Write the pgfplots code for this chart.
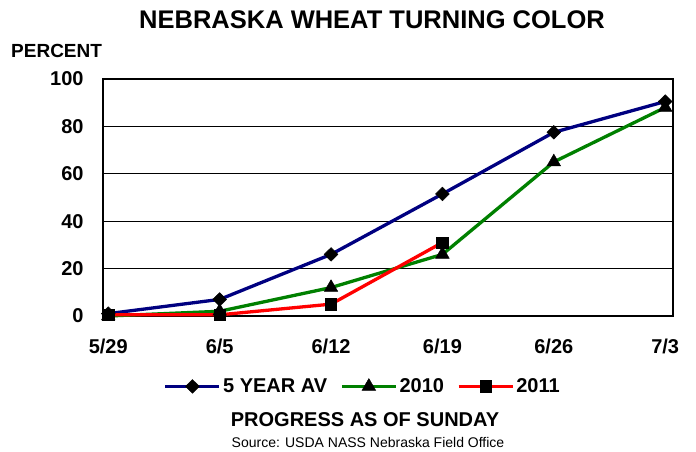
\documentclass[border=0pt]{standalone}
\usepackage{pgfplots}
\pgfplotsset{compat=1.18}
\usepackage{fontspec}
\setmainfont{Liberation Sans}
\definecolor{navyc}{RGB}{0,0,128}
\definecolor{greenc}{RGB}{0,128,0}
\definecolor{redc}{RGB}{255,0,0}
\begin{document}
\begin{tikzpicture}[x=1pt,y=1pt]
\useasboundingbox (0,0) rectangle (696,451);
\begin{axis}[
  at={(102.7pt,135pt)}, anchor=south west,
  scale only axis, width=570.3pt, height=237pt,
  xmin=-0.05, xmax=5.07, ymin=0, ymax=100,
  xtick={0,1,2,3,4,5},
  xticklabels={5/29,6/5,6/12,6/19,6/26,7/3},
  ytick={0,20,40,60,80,100},
  ymajorgrids, grid style={black, line width=1.2pt},
  major tick length=0pt,
  axis line style={black, line width=1.6pt},
  /pgf/number format/assume math mode=true,
  tick label style={font=\bfseries\fontsize{20}{24}\selectfont, inner sep=0pt},
  xticklabel style={yshift=-23pt},
  yticklabel style={xshift=-19pt},
  clip=false,
  legend columns=3,
  legend style={at={(0.456,-0.297)}, anchor=center, draw=none, fill=none,
    font=\bfseries\fontsize{20}{24}\selectfont,
    /tikz/every even column/.append style={column sep=11pt},
    inner sep=0pt},
  legend image code/.code={\draw[mark repeat=2,mark phase=2] plot coordinates {(0pt,0pt) (27pt,0pt) (54pt,0pt)};},
  every axis plot/.append style={line width=3.3pt},
]
\addplot[color=navyc, mark=diamond*, mark options={solid, fill=black, draw=black, line width=0.5pt, mark size=6.8pt, xscale=1.35}] coordinates {(0,1) (1,7) (2,26) (3,51.5) (4,77.5) (5,90.5)};
\addlegendentry{5 YEAR AV}
\addplot[color=greenc, mark=triangle*, mark options={solid, fill=black, draw=black, line width=0.5pt, mark size=7.8pt}] coordinates {(0,0) (1,2) (2,12) (3,26) (4,65) (5,88)};
\addlegendentry{2010}
\addplot[color=redc, mark=square*, mark options={solid, fill=black, draw=black, line width=0.5pt, mark size=5.7pt}] coordinates {(0,0.5) (1,0.5) (2,5) (3,31)};
\addlegendentry{2011}
\end{axis}
\node[font=\bfseries\fontsize{25.5}{30}\selectfont, anchor=base] at (372,422) {NEBRASKA WHEAT TURNING COLOR};
\node[font=\bfseries\fontsize{19}{23}\selectfont, anchor=base west, inner sep=0pt] at (11,393) {PERCENT};
\node[font=\bfseries\fontsize{20}{24}\selectfont, anchor=base] at (365,24.3) {PROGRESS AS OF SUNDAY};
\node[font=\fontsize{14}{17}\selectfont, anchor=base, inner sep=0pt] at (368,3.5) {Source: USDA NASS Nebraska Field Office};
\end{tikzpicture}
\end{document}
